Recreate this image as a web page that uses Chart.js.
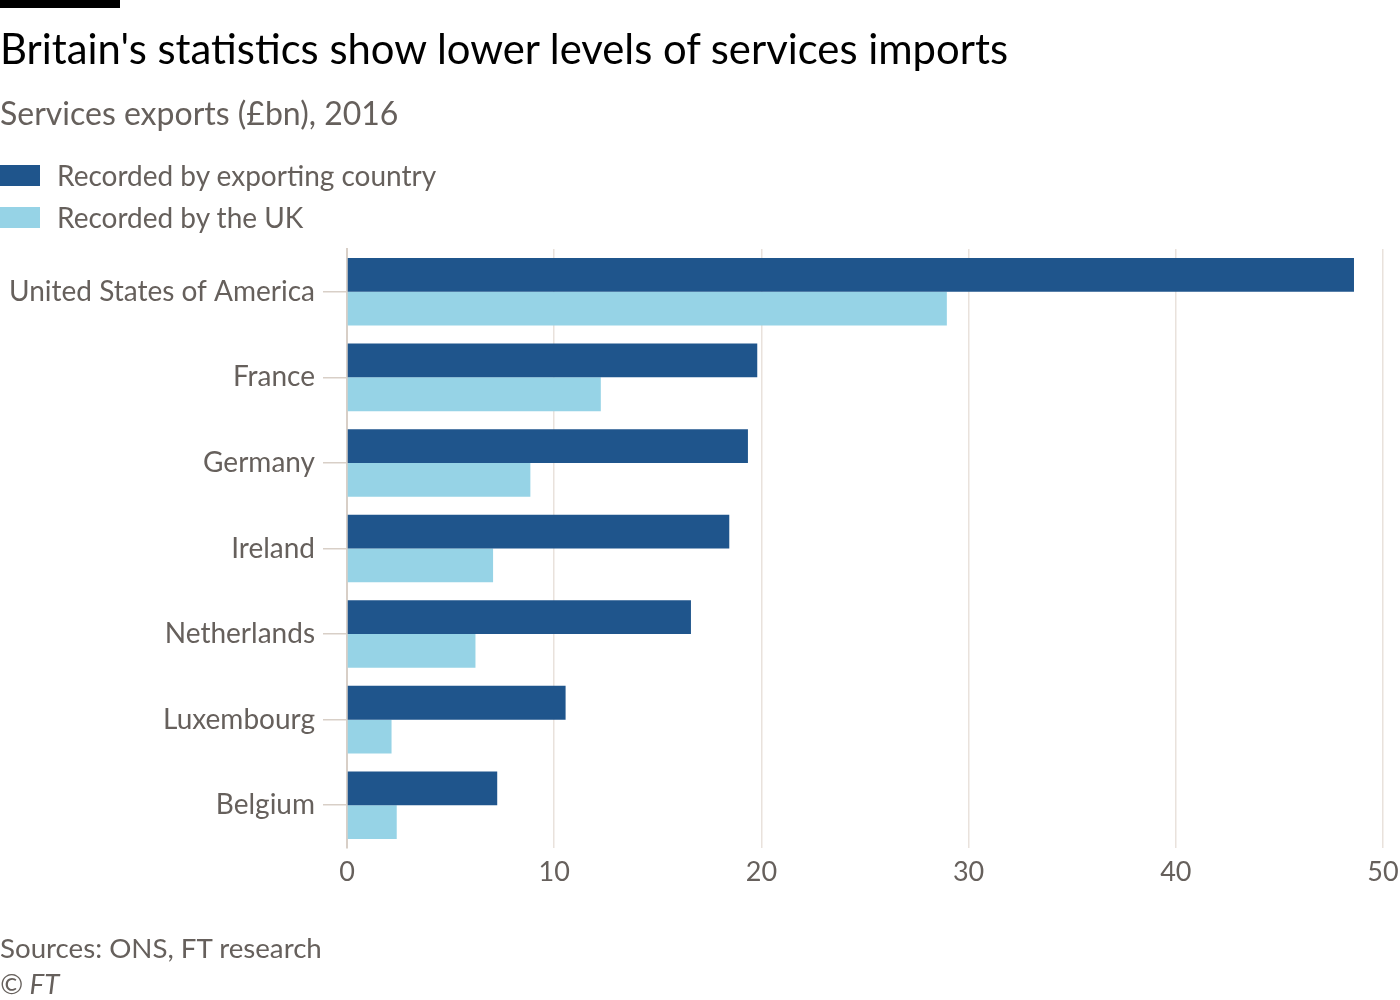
<!DOCTYPE html>
<html>
<head>
<meta charset="utf-8">
<script src="https://cdn.jsdelivr.net/npm/chart.js@4"></script>
<style>
  body { margin: 0; background: #fff; font-family: Lato, sans-serif; }
  #wrap { position: relative; width: 1400px; height: 1000px; overflow: hidden; }
  .abs { position: absolute; white-space: nowrap; }
  #bar { left: 0; top: 0; width: 120px; height: 8px; background: #000; }
  #title { left: 0; top: 23px; font-size: 41.8px; color: #000; }
  #sub { left: 0; top: 93px; font-size: 32px; color: #66605c; }
  .sw { left: 0; width: 40px; height: 21px; }
  .lg { left: 57px; font-size: 28px; color: #66605c; }
  #src { left: 0; top: 931px; font-size: 27.7px; color: #66605c; }
  #cr { left: 0; top: 967px; font-size: 27.7px; color: #66605c; font-style: italic; }
  canvas { position: absolute; left: 0; top: 0; }
</style>
</head>
<body>
<div id="wrap">
  <canvas id="myChart" width="1400" height="1000"></canvas>
  <div class="abs" id="bar"></div>
  <div class="abs" id="title">Britain's statistics show lower levels of services imports</div>
  <div class="abs" id="sub">Services exports (£bn), 2016</div>
  <div class="abs sw" style="top:165px;background:#1f558c"></div>
  <div class="abs lg" style="top:158px">Recorded by exporting country</div>
  <div class="abs sw" style="top:207px;background:#96d3e6"></div>
  <div class="abs lg" style="top:200px">Recorded by the UK</div>
  <div class="abs" id="src">Sources: ONS, FT research</div>
  <div class="abs" id="cr">© FT</div>
</div>
<script>
// dados
var paises = ['United States of America', 'France', 'Germany', 'Ireland', 'Netherlands', 'Luxembourg', 'Belgium'];
var exportador = [48.6, 19.8, 19.35, 18.45, 16.6, 10.55, 7.25];
var reinoUnido = [28.95, 12.25, 8.85, 7.05, 6.2, 2.15, 2.4];
var xTicks = [0, 10, 20, 30, 40, 50];

var dados = {
    labels: paises,
    datasets: [{
        label: 'Recorded by exporting country',
        backgroundColor: '#1f558c',
        data: exportador,
    }, {
        label: 'Recorded by the UK',
        backgroundColor: '#96d3e6',
        data: reinoUnido,
    }]
};

var config = {
    type: 'bar',
    data: dados,
    options: {
        indexAxis: 'y',
        responsive: false,
        animation: false,
        layout: { padding: { top: 249, right: 17, bottom: 102, left: 0 } },
        datasets: { bar: { barPercentage: 1.0, categoryPercentage: 0.79 } },
        plugins: { legend: { display: false }, tooltip: { enabled: false } },
        scales: {
            x: {
                min: 0, max: 50,
                afterBuildTicks: function (s) { s.ticks = xTicks.map(v => ({ value: v })); },
                afterFit: function (s) { s.height = 50; s.paddingLeft = 0; s.paddingRight = 0; },
                grid: { color: '#e9e2dc', lineWidth: 1.5, drawTicks: false },
                border: { display: false },
                ticks: { color: '#66605c', font: { family: 'Lato', size: 27 }, padding: 8 }
            },
            y: {
                afterFit: function (s) { s.width = 347; },
                grid: { offset: false, drawOnChartArea: false, tickLength: 24, color: '#d8cfc7', lineWidth: 1.5 },
                border: { display: true, color: '#d8cfc7', width: 2 },
                ticks: { color: '#66605c', font: { family: 'Lato', size: 28 }, padding: 8 }
            }
        }
    }
};

var grafico = new Chart(document.getElementById('myChart'), config);
</script>
</body>
</html>
